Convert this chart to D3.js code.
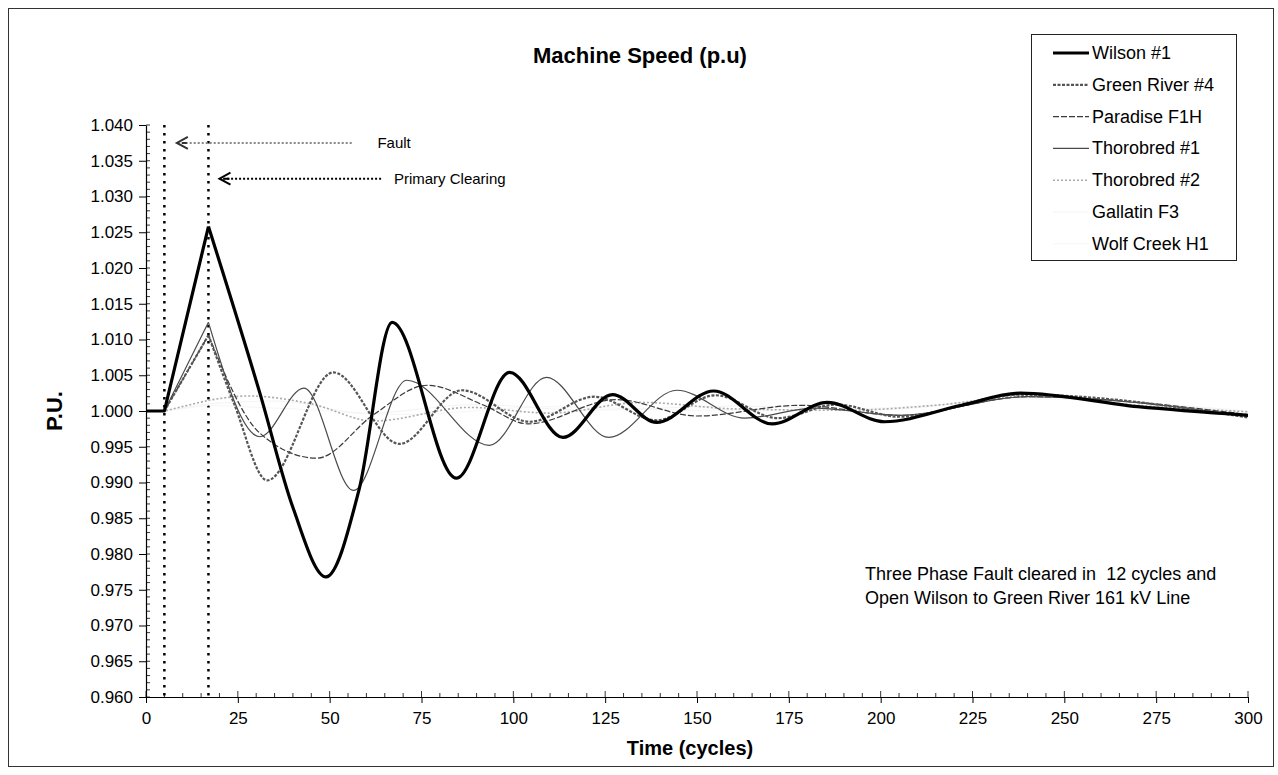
<!DOCTYPE html>
<html>
<head>
<meta charset="utf-8">
<script src="https://d3js.org/d3.v7.min.js"></script>
<style>
  body { margin: 0; background: #fff; }
  svg text { font-family: "Liberation Sans", Arial, sans-serif; fill: #000; }
</style>
</head>
<body>
<div id="chart"></div>
<script>
// time in cycles, speed in p.u.
const faultT = 5;
const clearT = 17;

const seriesNames = ["Wilson #1", "Green River #4", "Paradise F1H", "Thorobred #1", "Thorobred #2", "Gallatin F3", "Wolf Creek H1"];

const wilson = [[0,1.0000],[5,1.0000],[17,1.0258],[31,1.0025],[40,0.9865],[49,0.9768],[58,0.9890],[67,1.0124],[84.5,0.9906],[99,1.0054],[113.5,0.9963],[127,1.0023],[139,0.9984],[154.5,1.0028],[170.5,0.9982],[185.5,1.0012],[201,0.9985],[222,1.0008],[238,1.0025],[270,1.0006],[300,0.9994]];
const greenRiver = [[0,1.0000],[5,1.0000],[17,1.0106],[24,1.0010],[33,0.9903],[51,1.0054],[69,0.9954],[86,1.0029],[104.5,0.9985],[122,1.0020],[139,0.9987],[155,1.0022],[172,0.9990],[188,1.0009],[205,0.9992],[238,1.0023],[300,0.9991]];
const paradise = [[0,1.0000],[5,1.0000],[17,1.0106],[31,0.9969],[46.5,0.9934],[62,0.9995],[76.5,1.0036],[92,1.0008],[104,0.9982],[128,1.0016],[150,0.9993],[178,1.0008],[205,0.9994],[240,1.0020],[300,0.9995]];
const thorobred1 = [[0,1.0000],[5,1.0000],[17,1.0124],[31,0.9964],[43,1.0032],[56.5,0.9889],[71,1.0043],[93.5,0.9952],[109,1.0047],[126,0.9963],[144.5,1.0029],[163,0.9990],[182,1.0004],[205,0.9994],[240,1.0020],[300,0.9993]];
const thorobred2 = [[0,1.0000],[5,1.0000],[17,1.0015],[28,1.0021],[45,1.0010],[62,0.9986],[88,1.0005],[110,0.9997],[135,1.0012],[160,1.0003],[190,1.0001],[215,1.0008],[242,1.0022],[270,1.0008],[300,0.9999]];
const gallatin = [[0,1.0000],[5,1.0000],[17,1.0010],[35,1.0014],[60,0.9997],[90,1.0009],[120,1.0001],[160,1.0007],[200,1.0002],[240,1.0019],[300,0.9998]];
const wolfCreek = [[0,1.0000],[5,1.0000],[17,1.0008],[40,1.0003],[70,0.9995],[110,1.0006],[150,1.0001],[200,1.0004],[240,1.0017],[300,1.0000]];

const xTicks = d3.range(0, 301, 25);
const yTicks = d3.range(0, 17).map(i => 0.960 + i * 0.005);

const allSeries = [wilson, greenRiver, paradise, thorobred1, thorobred2, gallatin, wolfCreek];

// looks, in the same order as seriesNames
const looks = [
  { color: "#000", width: 3.2, dash: null },
  { color: "#555", width: 2.2, dash: "3,1.5" },
  { color: "#3a3a3a", width: 1.2, dash: "6,2" },
  { color: "#4a4a4a", width: 1.2, dash: null },
  { color: "#aaa", width: 1.6, dash: "2,2" },
  { color: "#f4f4f4", width: 1, dash: null },
  { color: "#f6f6f6", width: 1, dash: null }
];

const W = 1278, H = 775;
const svg = d3.select("#chart").append("svg").attr("width", W).attr("height", H);

svg.append("rect").attr("x", 8.5).attr("y", 8.5).attr("width", 1265).attr("height", 758)
  .attr("fill", "#fff").attr("stroke", "#333").attr("stroke-width", 1);

const x = d3.scaleLinear().domain([0, 300]).range([146, 1248]);
const y = d3.scaleLinear().domain([0.96, 1.04]).range([697, 125]);

// title
svg.append("text").attr("x", 640).attr("y", 63).attr("text-anchor", "middle")
  .style("font-size", "22px").style("font-weight", "bold").text("Machine Speed (p.u)");

// y axis
let yAxis = svg.append("g").attr("transform", `translate(${x(0)},0)`)
  .call(d3.axisLeft(y).tickValues(yTicks).tickFormat(d3.format(".3f")).tickSize(7).tickSizeOuter(0).tickPadding(6));
yAxis.selectAll("text").style("font-size", "17px");
yAxis.select(".domain").attr("stroke-width", 1.2);

svg.append("g").selectAll("line")
  .data(d3.range(0, 81).map(i => 0.960 + i * 0.001))
  .join("line")
  .attr("x1", x(0)).attr("x2", x(0) + 4)
  .attr("y1", d => y(d)).attr("y2", d => y(d))
  .attr("stroke", "#000").attr("stroke-width", 0.8);

// x axis
let xAxis = svg.append("g").attr("transform", `translate(0,${y(0.96)})`)
  .call(d3.axisBottom(x).tickValues(xTicks).tickSize(6).tickSizeOuter(0).tickPadding(9));
xAxis.selectAll("text").style("font-size", "17px");
xAxis.select(".domain").attr("stroke-width", 1.2);

svg.append("g").selectAll("line")
  .data(d3.range(0, 301, 5))
  .join("line")
  .attr("x1", d => x(d)).attr("x2", d => x(d))
  .attr("y1", y(0.96)).attr("y2", d => y(0.96) - (d % 25 === 0 ? 6 : 4))
  .attr("stroke", "#000").attr("stroke-width", 0.8);

// axis titles
svg.append("text").attr("x", 690).attr("y", 755).attr("text-anchor", "middle")
  .style("font-size", "20px").style("font-weight", "bold").text("Time (cycles)");
svg.append("text").attr("transform", `translate(62,${y(1.0)}) rotate(-90)`).attr("text-anchor", "middle")
  .style("font-size", "22px").style("font-weight", "bold").text("P.U.");

// fault / clearing markers
[faultT, clearT].forEach(t => {
  svg.append("line")
    .attr("x1", x(t)).attr("x2", x(t)).attr("y1", y(1.04)).attr("y2", y(0.96))
    .attr("stroke", "#000").attr("stroke-width", 2.5).attr("stroke-dasharray", "2.5,5.5");
});

let arrows = [
  { from: 56, to: 8.4, v: 1.0375, label: "Fault", labelT: 63, color: "#888" },
  { from: 64, to: 20, v: 1.0325, label: "Primary Clearing", labelT: 67.5, color: "#000" }
];
arrows.forEach(a => {
  let yy = y(a.v);
  svg.append("line").attr("x1", x(a.from)).attr("x2", x(a.to) + 2).attr("y1", yy).attr("y2", yy)
    .attr("stroke", a.color).attr("stroke-width", 2).attr("stroke-dasharray", "2,2");
  svg.append("path")
    .attr("d", `M${x(a.to) + 11},${yy - 6}L${x(a.to)},${yy}L${x(a.to) + 11},${yy + 6}M${x(a.to) + 5},${yy}L${x(a.to) + 10},${yy}`)
    .attr("fill", "none").attr("stroke", a.color === "#000" ? "#000" : "#333").attr("stroke-width", 2);
  svg.append("text").attr("x", x(a.labelT)).attr("y", yy + 5).style("font-size", "15px").text(a.label);
});

// series: straight ramp during the fault, smooth swings afterwards
const ramp = d3.line().x(d => x(d[0])).y(d => y(d[1]));
const swing = d3.line().x(d => x(d[0])).y(d => y(d[1])).curve(d3.curveMonotoneX);

const drawOrder = [6, 5, 4, 2, 3, 1, 0];
drawOrder.forEach(i => {
  let pts = allSeries[i];
  let g = svg.append("g");
  [ramp(pts.filter(d => d[0] <= clearT)), swing(pts.filter(d => d[0] >= clearT))].forEach(d => {
    g.append("path").attr("d", d)
      .attr("fill", "none")
      .attr("stroke", looks[i].color)
      .attr("stroke-width", looks[i].width)
      .attr("stroke-dasharray", looks[i].dash)
      .attr("stroke-linejoin", "round");
  });
});

// note
let note = svg.append("text").attr("x", 865).attr("y", 580).style("font-size", "18px");
note.append("tspan").attr("x", 865).text("Three Phase Fault cleared in \u00a012 cycles and");
note.append("tspan").attr("x", 865).attr("dy", 24).text("Open Wilson to Green River 161 kV Line");

// legend
let legend = svg.append("g");
legend.append("rect").attr("x", 1031.5).attr("y", 34.5).attr("width", 205).attr("height", 226)
  .attr("fill", "#fff").attr("stroke", "#222").attr("stroke-width", 1);
seriesNames.forEach((name, i) => {
  let ly = 53 + i * 31.8;
  legend.append("line").attr("x1", 1053).attr("x2", 1089).attr("y1", ly).attr("y2", ly)
    .attr("stroke", looks[i].color).attr("stroke-width", looks[i].width)
    .attr("stroke-dasharray", looks[i].dash);
  legend.append("text").attr("x", 1092).attr("y", ly + 6).style("font-size", "18px").text(name);
});
</script>
</body>
</html>
